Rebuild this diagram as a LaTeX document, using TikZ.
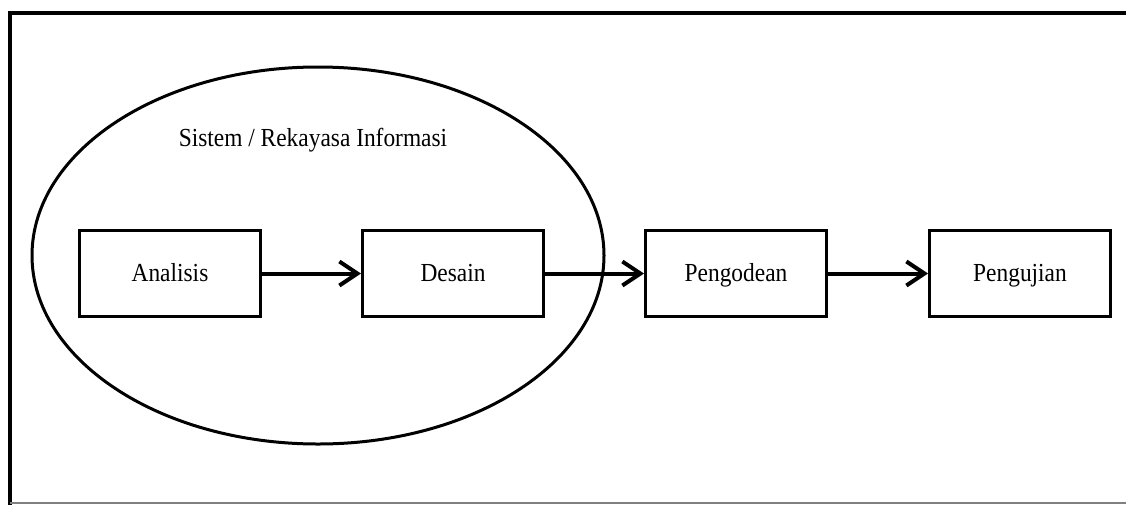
\documentclass[tikz,border=0pt]{standalone}
\usepackage{fontspec}
\setmainfont{Liberation Serif}
\usetikzlibrary{arrows.meta}
\newcommand\cnd[1]{\scalebox{0.9}[1]{#1}}
\begin{document}
\begin{tikzpicture}[x=1pt,y=-1pt,
  stepbox/.style={draw=black, line width=3pt, minimum width=181pt, minimum height=86pt, inner sep=0pt, text height=20pt, text depth=4pt, font=\fontsize{26}{28}\selectfont},
  flow/.style={line width=4pt, -{Straight Barb[length=18pt,width=24pt,line width=4pt]}},
  lbl/.style={font=\fontsize{26}{28}\selectfont}]
\useasboundingbox (0,0) rectangle (1126,504);
\fill[white] (0,0) rectangle (1126,504);
% frame
\draw[line width=4pt] (10,506) -- (10,13) -- (1130,13);
\draw[gray, line width=2pt] (10,503) -- (1130,503);
% ellipse
\draw[line width=3pt] (318,255.5) ellipse [x radius=286pt, y radius=188.5pt];
\node[lbl] (title) at (313,140) {\cnd{Sistem / Rekayasa Informasi}};
% boxes
\node[stepbox] (a) at (170,273.5) {\cnd{Analisis}};
\node[stepbox] (d) at (453,273.5) {\cnd{Desain}};
\node[stepbox] (p) at (736,273.5) {\cnd{Pengodean}};
\node[stepbox] (u) at (1020,273.5) {\cnd{Pengujian}};
\draw[flow] (a.east) -- (d.west);
\draw[flow] (d.east) -- (p.west);
\draw[flow] (p.east) -- (u.west);
\end{tikzpicture}
\end{document}
